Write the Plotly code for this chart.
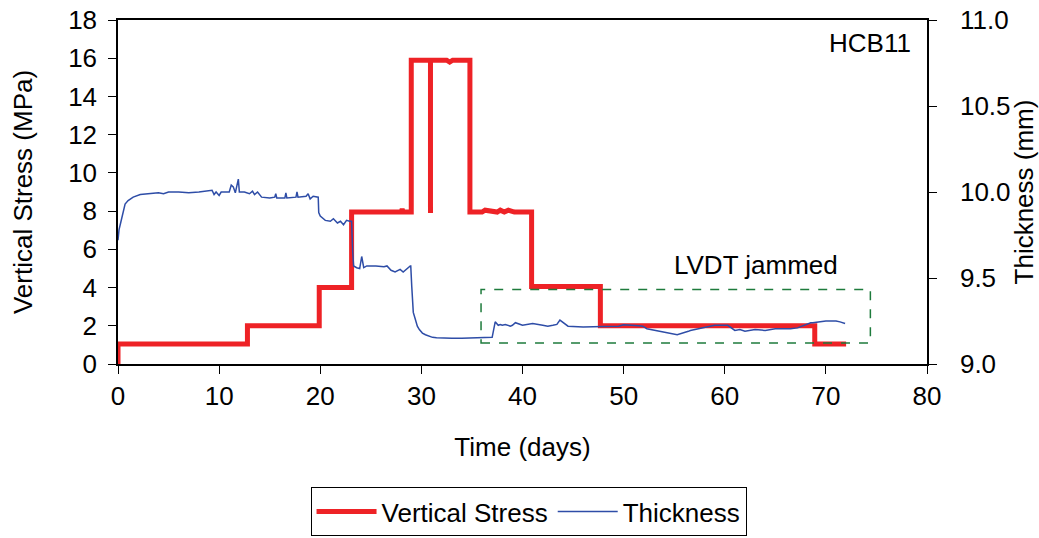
import plotly.graph_objects as go

# Vertical stress (MPa) – step loading history
stress_days = [0, 0, 12.8, 12.8, 19.9, 19.9, 23.1, 23.1, 28.0, 28.1, 28.2, 29.0, 29.0,
               30.9, 30.9, 30.9, 32.5, 32.8, 33.1, 34.8, 34.8, 36.0, 36.3, 37.5, 37.8, 38.2, 38.6,
               39.2, 40.9, 40.9, 47.7, 47.7, 68.9, 68.9, 72.0]
stress_mpa = [0, 1.05, 1.05, 2.0, 2.0, 4.0, 4.0, 7.95, 7.95, 8.1, 7.95, 7.95, 15.9,
              15.9, 7.9, 15.9, 15.9, 15.8, 15.9, 15.9, 7.95, 7.95, 8.05, 7.95, 8.05, 7.95, 8.05,
              7.95, 7.95, 4.05, 4.05, 2.0, 2.0, 1.05, 1.05]

# Specimen thickness (mm)
thick_days = [0.0, 0.1, 0.3, 0.7, 1.0, 1.5, 2.2, 3.0, 4.0, 4.5, 5.0, 6.0, 7.0, 8.0, 9.0, 9.3,
              9.5, 9.7, 10.0, 10.2, 11.0, 11.2, 11.4, 11.6, 11.9, 12.0, 12.5, 13.0, 13.3, 13.5,
              13.8, 14.2, 15.0, 15.5, 15.6, 15.7, 16.5, 16.6, 16.7, 17.6, 17.7, 17.8, 18.6, 18.8,
              19.0, 19.3, 19.8, 19.85, 20.0, 20.5, 21.0, 21.3, 21.7, 22.0, 22.3, 22.6, 22.9, 23.1,
              23.2, 23.3, 23.6, 23.9, 24.1, 24.3, 24.6, 25.5, 26.3, 26.6, 27.0, 27.4, 27.9, 28.2,
              28.9, 28.95, 29.05, 29.2, 29.4, 29.6, 29.8, 30.1, 30.4, 30.8, 31.1, 31.5, 32.0,
              33.0, 34.0, 35.0, 35.7, 36.9, 37.0, 37.3, 37.6, 37.8, 38.0, 38.3, 38.8, 39.0, 39.3,
              40.0, 40.5, 41.0, 42.0, 42.5, 43.0, 43.4, 43.7, 44.5, 46.0, 47.5, 48.0, 49.5, 50.0,
              51.5, 51.9, 52.3, 55.0, 55.3, 56.4, 56.6, 59.0, 60.0, 60.3, 61.0, 61.5, 62.0, 63.0,
              64.0, 65.0, 66.5, 67.2, 68.5, 68.7, 70.0, 71.0, 71.4, 71.9]
thick_mm = [9.72, 9.78, 9.83, 9.93, 9.95, 9.97, 9.985, 9.99, 9.995, 9.99, 10.0, 10.0, 9.995,
            10.0, 10.005, 10.01, 9.985, 10.0, 9.98, 10.0, 10.0, 10.04, 10.03, 9.995, 10.075,
            10.0, 10.0, 9.99, 10.005, 9.985, 10.0, 9.97, 9.965, 9.97, 9.99, 9.965, 9.965, 9.995,
            9.965, 9.97, 10.0, 9.97, 9.975, 9.99, 9.96, 9.975, 9.97, 9.88, 9.86, 9.835, 9.83,
            9.845, 9.82, 9.83, 9.81, 9.835, 9.83, 9.83, 9.66, 9.57, 9.56, 9.555, 9.625, 9.56,
            9.57, 9.57, 9.565, 9.57, 9.545, 9.535, 9.55, 9.535, 9.57, 9.57, 9.45, 9.30,
            9.26, 9.22, 9.2, 9.18, 9.17, 9.16, 9.155, 9.152, 9.15, 9.15,
            9.15, 9.152, 9.15, 9.155, 9.155,
            9.245, 9.225, 9.23, 9.225, 9.23, 9.22, 9.225, 9.24, 9.225, 9.23, 9.235, 9.225, 9.22,
            9.225, 9.23, 9.255, 9.22, 9.215, 9.215, 9.218, 9.22, 9.228, 9.222, 9.22, 9.205,
            9.17, 9.17, 9.19, 9.195, 9.225, 9.225, 9.225, 9.195, 9.2, 9.19, 9.2, 9.195, 9.205,
            9.205, 9.21, 9.24, 9.24, 9.25, 9.25, 9.245, 9.235, 9.22]

x_ticks = [0, 10, 20, 30, 40, 50, 60, 70, 80]
y_ticks = [0, 2, 4, 6, 8, 10, 12, 14, 16, 18]
y2_ticks = [9.0, 9.5, 10.0, 10.5, 11.0]

FONT = "Liberation Sans, Arial, sans-serif"
FS = 26

fig = go.Figure()
fig.add_trace(go.Scatter(x=stress_days, y=stress_mpa, mode="lines", name="Vertical Stress",
                         line=dict(color="#EE2226", width=5), yaxis="y"))
fig.add_trace(go.Scatter(x=thick_days, y=thick_mm, mode="lines", name="Thickness",
                         line=dict(color="#2E4DA7", width=1.5), yaxis="y2"))

fig.add_shape(type="rect", xref="x", yref="y", x0=35.9, x1=74.4, y0=1.1, y1=3.9,
              line=dict(color="#1E7B3C", width=1.5, dash="dash"))

fig.add_annotation(x=63.1, y=5.2, xref="x", yref="y", text="LVDT jammed", showarrow=False,
                   font=dict(family=FONT, size=FS, color="black"))
fig.add_annotation(x=74.4, y=16.8, xref="x", yref="y", text="HCB11", showarrow=False,
                   font=dict(family=FONT, size=FS, color="black"))

fig.update_layout(
    width=1039, height=538,
    margin=dict(l=118, r=112, t=20, b=174),
    paper_bgcolor="white", plot_bgcolor="white",
    font=dict(family=FONT, size=FS, color="black"),
    showlegend=True,
    legend=dict(orientation="h", xref="container", yref="container",
                x=0.5087, xanchor="center", y=0.0945, yanchor="top",
                bordercolor="black", borderwidth=1, font=dict(size=FS),
                itemwidth=60, tracegroupgap=0),
    xaxis=dict(range=[0, 80], tickvals=x_ticks, showgrid=False, zeroline=False,
               showline=True, linecolor="black", linewidth=1.5, mirror=True, automargin=False,
               ticks="outside", ticklen=8, tickcolor="black", ticklabelstandoff=0,
               title=dict(text="Time (days)", standoff=28, font=dict(size=FS))),
    yaxis=dict(range=[0, 18], tickvals=y_ticks, showgrid=False, zeroline=False,
               showline=True, linecolor="black", linewidth=1.5, automargin=False,
               ticks="outside", ticklen=8, tickcolor="black", ticklabelstandoff=6,
               title=dict(text="Vertical Stress (MPa)", standoff=28, font=dict(size=FS))),
    yaxis2=dict(range=[9.0, 11.0], tickvals=y2_ticks, tickformat=".1f", overlaying="y",
                side="right", showgrid=False, zeroline=False, automargin=False,
                showline=True, linecolor="black", linewidth=1.5,
                ticks="outside", ticklen=8, tickcolor="black", ticklabelstandoff=18,
                title=dict(text="Thickness (mm)", standoff=9, font=dict(size=FS))),
)

fig.write_html("out.html")
